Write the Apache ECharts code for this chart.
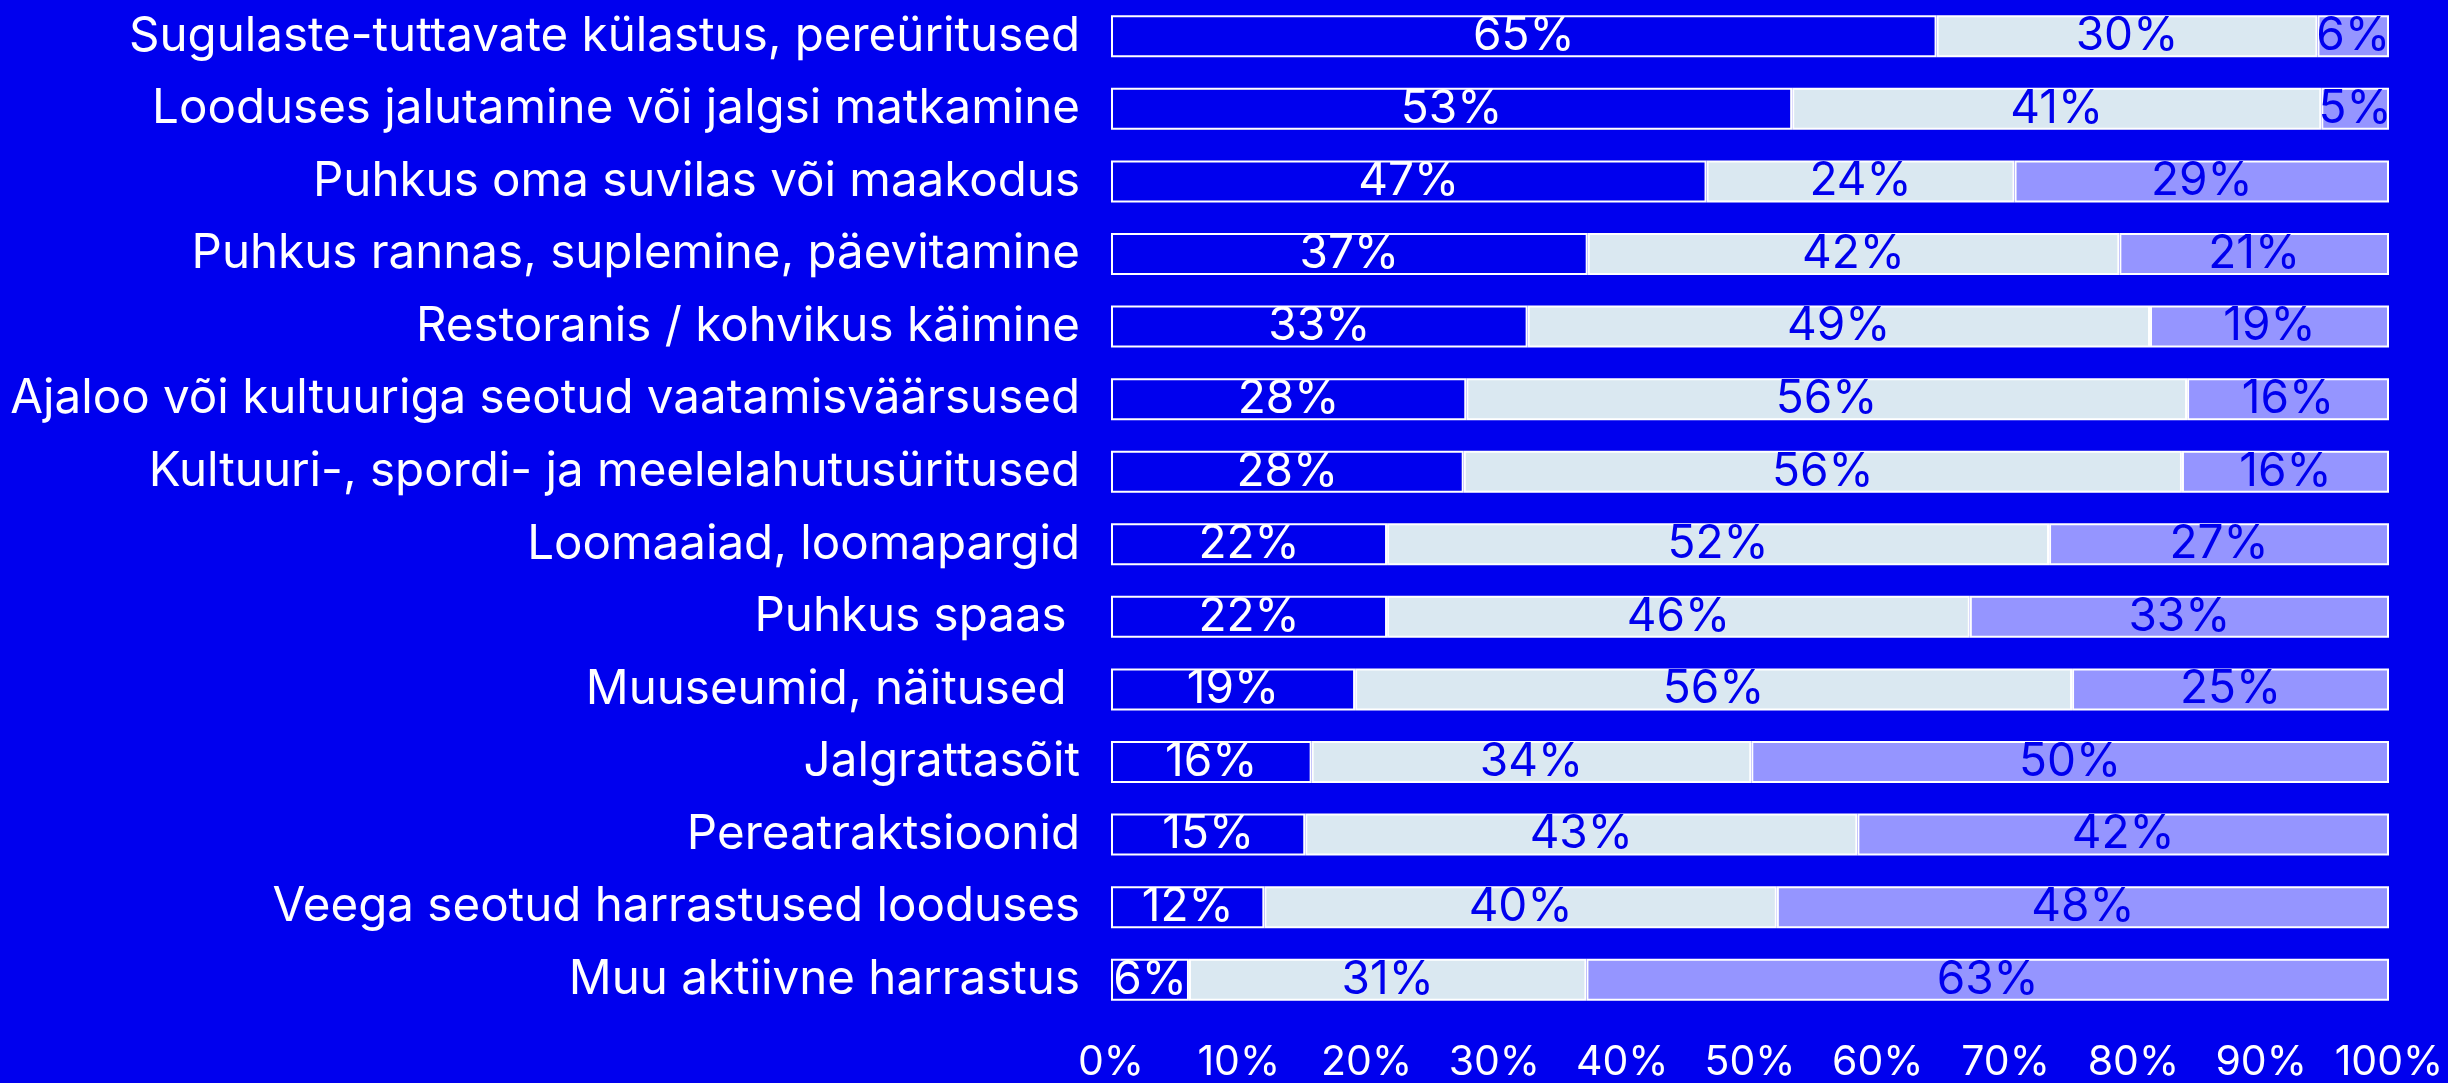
<!DOCTYPE html>
<html>
<head>
<meta charset="utf-8">
<script src="https://cdn.jsdelivr.net/npm/echarts@6/dist/echarts.min.js"></script>
<style>
  html, body { margin: 0; padding: 0; background: #0000ee; }
  #chart { width: 2448px; height: 1083px; }
</style>
</head>
<body>
<div id="chart"></div>
<script>
// categories, top to bottom
const categories = [
  'Sugulaste-tuttavate külastus, pereüritused',
  'Looduses jalutamine või jalgsi matkamine',
  'Puhkus oma suvilas või maakodus',
  'Puhkus rannas, suplemine, päevitamine',
  'Restoranis / kohvikus käimine',
  'Ajaloo või kultuuriga seotud vaatamisväärsused',
  'Kultuuri-, spordi- ja meelelahutusüritused',
  'Loomaaiad, loomapargid',
  'Puhkus spaas ',
  'Muuseumid, näitused ',
  'Jalgrattasõit',
  'Pereatraktsioonid',
  'Veega seotud harrastused looduses',
  'Muu aktiivne harrastus'
]

// shares in %
const seriesA = [64.6, 53.3, 46.6, 37.3, 32.6, 27.8, 27.6, 21.6, 21.6, 19.1, 15.7, 15.2, 12.0, 6.1]
const seriesB = [29.8, 41.4, 24.1, 41.6, 48.7, 56.4, 56.2, 51.8, 45.6, 56.1, 34.4, 43.2, 40.1, 31.1]
const seriesC = [5.6, 5.3, 29.3, 21.1, 18.7, 15.8, 16.2, 26.6, 32.8, 24.8, 49.9, 41.6, 47.9, 62.8]

const xTicks = [0, 10, 20, 30, 40, 50, 60, 70, 80, 90, 100]

const BLUE = '#0000ee'
const FONT = 'Inter'

const chart = echarts.init(document.getElementById('chart'), null, { renderer: 'canvas' })

function barSeries(name, data, color, labelColor) {
  return {
    name,
    type: 'bar',
    stack: 'total',
    data,
    barWidth: 42,
    itemStyle: { color, borderColor: '#ffffff', borderWidth: 2 },
    label: {
      show: true,
      position: 'inside',
      color: labelColor,
      fontFamily: FONT,
      fontSize: 46,
      formatter: p => Math.round(p.value) + '%'
    },
    emphasis: { disabled: true }
  }
}

chart.setOption({
  backgroundColor: BLUE,
  animation: false,
  grid: { left: 1111, right: 59, top: -1, bottom: 62 },
  xAxis: {
    type: 'value',
    min: xTicks[0],
    max: xTicks[xTicks.length - 1],
    interval: 10,
    axisLine: { show: false },
    axisTick: { show: false },
    splitLine: { show: false },
    axisLabel: {
      color: '#ffffff',
      fontFamily: FONT,
      fontSize: 41,
      margin: 26,
      formatter: '{value}%'
    }
  },
  yAxis: {
    type: 'category',
    inverse: true,
    data: categories,
    axisLine: { show: false },
    axisTick: { show: false },
    axisLabel: {
      color: '#ffffff',
      fontFamily: FONT,
      fontSize: 47.5,
      margin: 31
    }
  },
  series: [
    barSeries('A', seriesA, BLUE, '#ffffff'),
    barSeries('B', seriesB, '#dae8f1', BLUE),
    barSeries('C', seriesC, '#9595ff', BLUE)
  ]
})

window.addEventListener('resize', () => chart.resize())
</script>
</body>
</html>
